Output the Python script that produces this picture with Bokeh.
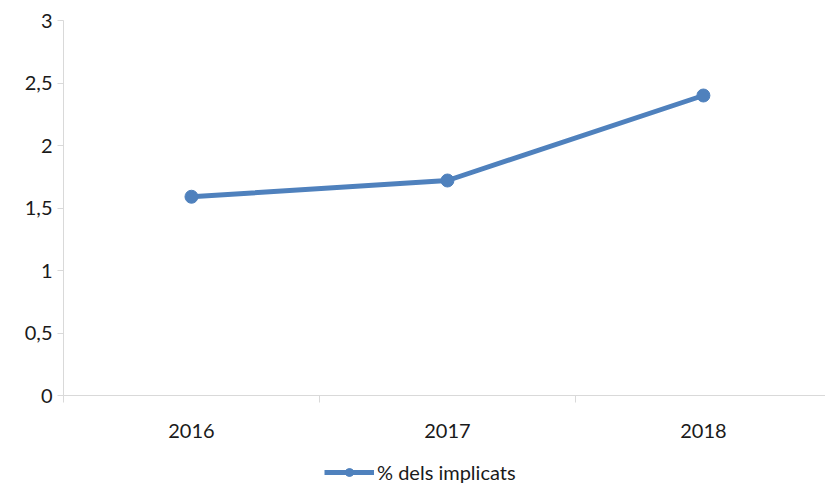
from bokeh.plotting import figure
from bokeh.layouts import column
from bokeh.models import FixedTicker, Legend, LegendItem, ColumnDataSource, Range1d
from bokeh.embed import file_html
from bokeh.resources import INLINE

categories = ["2016", "2017", "2018"]
values = [1.59, 1.72, 2.40]
series_name = "% dels implicats"
y_ticks = [0, 0.5, 1, 1.5, 2, 2.5, 3]

FONT = "Lato"
TEXT = "#1a1a1a"
AXIS = "#d9d9d9"
BLUE = "#4f81bd"

xs = [i + 0.5 for i in range(len(categories))]
src = ColumnDataSource(dict(x=xs, y=values, cat=categories))

p = figure(width=825, height=447,
           output_backend="svg", toolbar_location=None,
           x_range=Range1d(0, 2.977), y_range=Range1d(0, 3),
           min_border_left=63, min_border_top=20, min_border_right=0, min_border_bottom=52)
p.outline_line_color = None
p.xgrid.visible = False
p.ygrid.visible = False

p.line("x", "y", source=src, line_color=BLUE, line_width=5)
p.scatter("x", "y", source=src, size=13, fill_color=BLUE, line_color=BLUE)

# x axis
p.xaxis.ticker = FixedTicker(ticks=xs, minor_ticks=list(range(len(categories) + 1)))
p.xaxis.major_label_overrides = {x: c for x, c in zip(xs, categories)}
p.xaxis.major_tick_out = 0
p.xaxis.major_tick_in = 0
p.xaxis.minor_tick_out = 7
p.xaxis.minor_tick_in = 0
p.xaxis.minor_tick_line_color = AXIS
p.xaxis.axis_line_color = AXIS
p.xaxis.major_label_standoff = 21
p.xaxis.major_label_text_font = FONT
p.xaxis.major_label_text_font_size = "20px"
p.xaxis.major_label_text_color = TEXT

# y axis
p.yaxis.ticker = FixedTicker(ticks=y_ticks, minor_ticks=[])
p.yaxis.major_label_overrides = {t: f"{t:g}".replace(".", ",") for t in y_ticks}
p.yaxis.major_tick_out = 6
p.yaxis.major_tick_in = 0
p.yaxis.major_tick_line_color = AXIS
p.yaxis.axis_line_color = AXIS
p.yaxis.major_label_standoff = 5
p.yaxis.major_label_text_font = FONT
p.yaxis.major_label_text_font_size = "20px"
p.yaxis.major_label_text_color = TEXT

# legend strip below the chart (its own renderers sit outside its visible range)
lg = figure(width=825, height=42, output_backend="svg", toolbar_location=None,
            x_range=Range1d(0, 2.977), y_range=Range1d(100, 101),
            min_border_left=0, min_border_right=0, min_border_top=0, min_border_bottom=0)
lg.axis.visible = False
lg.grid.visible = False
lg.outline_line_color = None
l_line = lg.line("x", "y", source=src, line_color=BLUE, line_width=5)
l_pts = lg.scatter("x", "y", source=src, size=13, fill_color=BLUE, line_color=BLUE)
legend = Legend(items=[LegendItem(label=series_name, renderers=[l_line, l_pts])],
                location=(261, 5), orientation="horizontal",
                glyph_width=50, glyph_height=20, label_standoff=3,
                label_text_font=FONT, label_text_font_size="20px",
                label_text_color=TEXT, border_line_color=None,
                background_fill_alpha=0, margin=0, padding=4)
lg.add_layout(legend, "center")

open("out.html", "w").write(file_html(column(p, lg, spacing=0), INLINE))
